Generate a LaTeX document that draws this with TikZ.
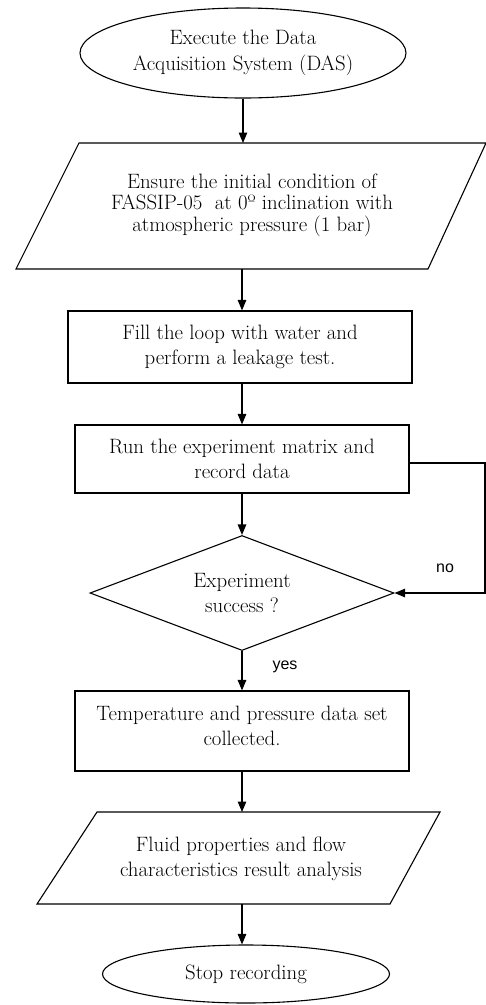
\documentclass[tikz,border=0pt]{standalone}
\usepackage{fontspec}
\newfontfamily\labelsans{Liberation Sans}
\usetikzlibrary{arrows.meta,shapes.geometric}
\begin{document}
\begin{tikzpicture}[x=1pt,y=-1pt,line width=1.1pt,
  txt/.style={align=center,font=\fontsize{20.8}{25}\selectfont,inner sep=0pt},
  terminal/.style={txt,draw,ellipse},
  stepbox/.style={txt,draw,rectangle},
  decision/.style={txt,draw,diamond,aspect=2.64},
  flowline/.style={-{Triangle[width=8.5pt,length=10.5pt]}},
  branchlabel/.style={font=\labelsans\fontsize{16}{20}\selectfont,inner sep=0pt}]
% page frame
\fill[white] (0,0) rectangle (486,1005);
\useasboundingbox (0,0) rectangle (486,1005);

% start
\node[terminal,minimum width=326pt,minimum height=90pt,font=\fontsize{20.8}{26}\selectfont] (start) at (243,53)
  {Execute the Data\\Acquisition System (DAS)};

% input: initial condition
\draw (79,143) -- (486,143) -- (428,269) -- (16,269) -- cycle;
\coordinate (initTop) at (243,143);
\coordinate (initBot) at (242,269);
\node[txt,font=\fontsize{20.8}{21.5}\selectfont] (init) at (252,205)
  {Ensure the initial condition of\\FASSIP-05~ at 0º inclination with\\atmospheric pressure (1 bar)};

% process steps
\node[stepbox,minimum width=344pt,minimum height=72pt] (fill) at (240,347)
  {Fill the loop with water and\\perform a leakage test.};
\node[stepbox,minimum width=334pt,minimum height=68pt] (run) at (242,459)
  {Run the experiment matrix and\\record data};

% decision
\node[decision,minimum width=304pt,minimum height=115pt] (check) at (242,593)
  {Experiment\\success ?};

\node[stepbox,minimum width=334pt,minimum height=80pt] (data) at (242,731) {};
\node[txt] (dataText) at (242,726)
  {Temperature and pressure data set\\collected.};

% output: analysis
\draw (97,812) -- (440,812) -- (390,904) -- (37,904) -- cycle;
\coordinate (anaTop) at (242,812);
\coordinate (anaBot) at (242,904);
\node[txt] (ana) at (241,859)
  {Fluid properties and flow\\characteristics result analysis};

% end
\node[terminal,minimum width=287pt,minimum height=58pt] (stop) at (246,974)
  {Stop recording};

% connectors
\draw[flowline] (start.south -| initTop) -- (initTop);
\draw[flowline] (initBot) -- (initBot |- fill.north);
\draw[flowline] (fill.south -| initBot) -- (run.north -| initBot);
\draw[flowline] (run.south -| check.north) -- (check.north);
\draw[flowline] (check.south) -- (check.south |- data.north);
\draw[flowline] (data.south -| anaTop) -- (anaTop);
\draw[flowline] (anaBot) -- (anaBot |- stop.north);

% retry branch
\coordinate (loopTop) at (485,463);
\draw[flowline] (run.east |- loopTop) -- (loopTop) |- (check.east);
\node[branchlabel] (no) at (445,568) {no};
\node[branchlabel] (yes) at (285,667) {yes};
\end{tikzpicture}
\end{document}
